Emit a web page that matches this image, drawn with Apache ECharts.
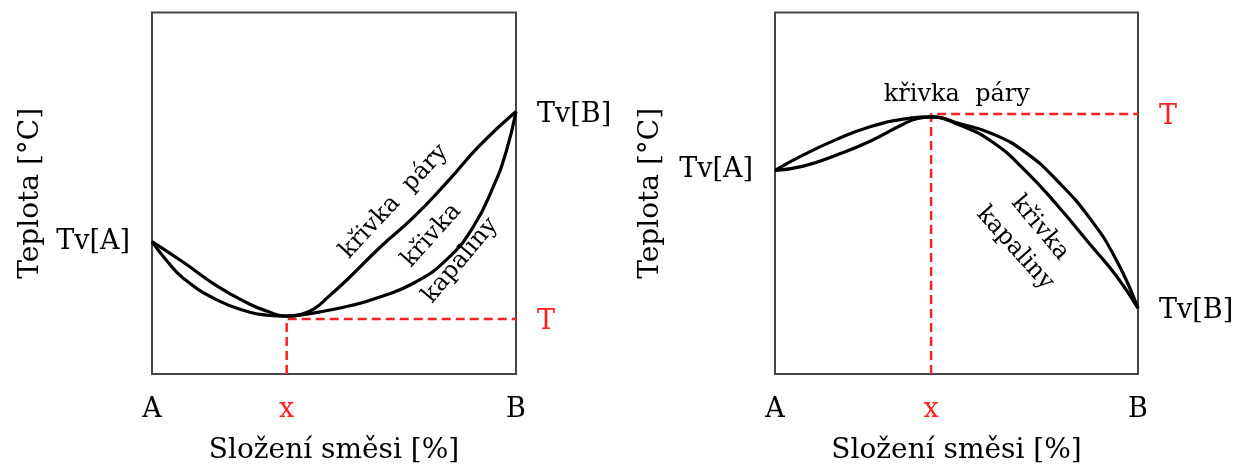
<!DOCTYPE html>
<html>
<head>
<meta charset="utf-8">
<script src="https://cdn.jsdelivr.net/npm/echarts@6/dist/echarts.min.js"></script>
<style>
html,body{margin:0;padding:0;background:#fff;}
#chart{width:1237px;height:466px;}
</style>
</head>
<body>
<div id="chart"></div>
<script>
// ---- data (x: composition 0=A .. 100=B, y: relative temperature 0..100) ----
const xTickValuesLeft = [0, 37, 100];
const xTickValuesRight = [0, 43, 100];
const xTickNames = ['A', 'x', 'B'];

// Left diagram: minimum-boiling azeotrope
const leftTvA = 36.6;
const leftTvB = 72.6;
const leftT = 15.2;
const leftVapor = [[0,36.6],[8.6,30.9],[17.8,24.4],[26.9,19.3],[31.5,17.4],[37,16.0],[41,16.5],[44.5,18.0],[48.5,21.4],[53.5,26.0],[62.6,35.0],[71.8,43.3],[81,53.0],[90.1,63.3],[100,72.6]];
const leftLiquid = [[0,36.6],[4,31.4],[8.6,26.5],[17.8,20.5],[26.9,17.1],[31.5,16.3],[37,16.0],[46.2,17.2],[55,19.0],[62.6,21.3],[71.8,25.1],[81,31.7],[88.3,40.8],[93.8,51.9],[97.3,61.5],[100,72.6]];
const leftRedLine = [[37,0],[37,15.2],[100,15.2]];

// Right diagram: maximum-boiling azeotrope
const rightTvA = 56.3;
const rightTvB = 18.2;
const rightT = 71.9;
const rightVapor = [[0,56.3],[7.8,60.6],[17,64.9],[26.2,68.4],[35.3,70.5],[43,71.1],[51,69.2],[60,66.4],[69,61.3],[78,53.2],[87,42.7],[94,31.6],[100,18.2]];
const rightLiquid = [[0,56.3],[7.8,57.5],[17,60.6],[26.2,64.4],[35.3,69.1],[39,70.6],[43,71.1],[51,68.8],[60,64.1],[69,56.2],[78,46.4],[87,35.6],[94,27.2],[100,18.2]];
const rightRedLine = [[43,0],[43,71.9],[100,71.9]];

// curve captions: [x, y, text, rotation]
const leftCaptions = [[66.5,47.7,'křivka  páry',47],[76.8,38.3,'křivka',48],[84.7,31.4,'kapaliny',50]];
const rightCaptions = [[50.1,77.3,'křivka  páry',0],[73.0,40.4,'křivka',-50],[66.1,34.8,'kapaliny',-48]];

const axisTitleX = 'Složení směsi [%]';
const axisTitleY = 'Teplota [°C]';

// ---- styling ----
const FONT = 'DejaVu Serif';
const RED = '#ff2020';
const INK = '#000';

function xAxisDef(gridIndex, ticks) {
  return {
    type: 'value', gridIndex, min: 0, max: 100,
    axisLine: {show: false}, axisTick: {show: false}, splitLine: {show: false},
    axisLabel: {
      customValues: ticks, margin: 22, fontFamily: FONT, fontSize: 27, color: INK,
      formatter: v => { const i = ticks.indexOf(v); const s = xTickNames[i]; return s === 'x' ? '{r|x}' : s; },
      rich: {r: {color: RED, fontFamily: FONT, fontSize: 27}}
    },
    name: axisTitleX, nameLocation: 'middle', nameGap: 63,
    nameTextStyle: {fontFamily: FONT, fontSize: 28, color: INK}
  };
}
function yAxisLeft(gridIndex, tvA, gap) {
  return {
    type: 'value', gridIndex, min: 0, max: 100, position: 'left',
    axisLine: {show: false}, axisTick: {show: false}, splitLine: {show: false},
    axisLabel: {customValues: [tvA], margin: 22, fontFamily: FONT, fontSize: 27, color: INK,
      padding: [14, 0, 0, 0], formatter: () => 'Tv[A]'},
    name: axisTitleY, nameLocation: 'middle', nameGap: gap, nameRotate: 90,
    nameTextStyle: {fontFamily: FONT, fontSize: 28, color: INK}
  };
}
function yAxisRight(gridIndex, t, tvB) {
  return {
    type: 'value', gridIndex, min: 0, max: 100, position: 'right',
    axisLine: {show: false}, axisTick: {show: false}, splitLine: {show: false},
    axisLabel: {
      customValues: [t, tvB], margin: 21, fontFamily: FONT, fontSize: 27, color: INK,
      padding: [6, 0, 0, 0],
      formatter: v => v === t ? '{r|T}' : 'Tv[B]',
      rich: {r: {color: RED, fontFamily: FONT, fontSize: 27}}
    }
  };
}
function curve(xi, yi, data) {
  return {type: 'line', xAxisIndex: xi, yAxisIndex: yi, data, smooth: 0.5, symbol: 'none',
    lineStyle: {color: '#000', width: 3.2}, silent: true, z: 3};
}
function redLine(xi, yi, data) {
  return {type: 'line', xAxisIndex: xi, yAxisIndex: yi, data, smooth: false, symbol: 'none',
    lineStyle: {color: RED, width: 2.5, type: [9, 5]}, silent: true, z: 2};
}
function captions(xi, yi, list) {
  return {type: 'scatter', xAxisIndex: xi, yAxisIndex: yi, symbolSize: 0, silent: true, z: 4,
    itemStyle: {opacity: 1, color: 'transparent'},
    label: {show: true, position: 'inside', fontFamily: FONT, fontSize: 24, color: INK, opacity: 1},
    data: list.map(c => ({value: [c[0], c[1]], label: {formatter: c[2], rotate: c[3]}}))};
}

const chart = echarts.init(document.getElementById('chart'), null, {renderer: 'canvas'});
chart.setOption({
  animation: false,
  backgroundColor: '#fff',
  grid: [
    {left: 152, top: 12.5, width: 364, height: 361.5, show: true, borderColor: '#444', borderWidth: 2, backgroundColor: 'transparent', outerBoundsMode: 'none', containLabel: false},
    {left: 775, top: 12.5, width: 363, height: 361.5, show: true, borderColor: '#444', borderWidth: 2, backgroundColor: 'transparent', outerBoundsMode: 'none', containLabel: false}
  ],
  xAxis: [xAxisDef(0, xTickValuesLeft), xAxisDef(1, xTickValuesRight)],
  yAxis: [yAxisLeft(0, leftTvA, 107), yAxisRight(0, leftT, leftTvB), yAxisLeft(1, rightTvA, 110), yAxisRight(1, rightT, rightTvB)],
  series: [
    redLine(0, 0, leftRedLine),
    curve(0, 0, leftVapor),
    curve(0, 0, leftLiquid),
    captions(0, 0, leftCaptions),
    redLine(1, 2, rightRedLine),
    curve(1, 2, rightVapor),
    curve(1, 2, rightLiquid),
    captions(1, 2, rightCaptions)
  ]
});
</script>
</body>
</html>
